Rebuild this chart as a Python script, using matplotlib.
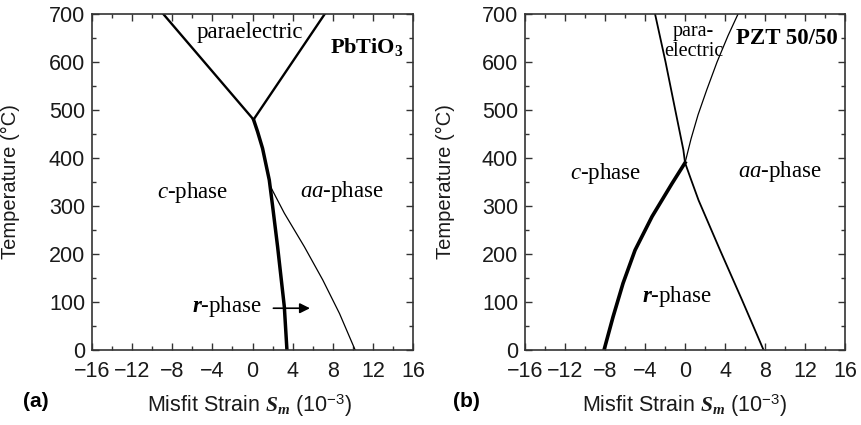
import matplotlib
matplotlib.use("Agg")
import matplotlib.pyplot as plt

plt.rcParams['font.family'] = ['Liberation Sans', 'DejaVu Sans']
plt.rcParams['mathtext.fontset'] = 'custom'
plt.rcParams['mathtext.rm'] = 'Liberation Serif'
plt.rcParams['mathtext.it'] = 'Liberation Serif:italic'
plt.rcParams['mathtext.bf'] = 'Liberation Serif:bold'
plt.rcParams['mathtext.bfit'] = 'Liberation Serif:italic:bold'
plt.rcParams['mathtext.sf'] = 'Liberation Sans'

# panel (a) PbTiO3
a_para_left_x = [-8.9, 0.1]
a_para_left_y = [700, 480]
a_para_right_x = [7.2, 0.1]
a_para_right_y = [700, 480]
a_cr_x = [0.1, 0.5, 1.0, 1.67, 2.0, 2.5, 3.17, 3.43]
a_cr_y = [480, 455, 420, 354, 300, 215, 90, 0]
a_raa_x = [1.75, 3.17, 5.17, 7.0, 8.67, 10.23]
a_raa_y = [342, 285, 215, 146, 76, 0]
a_arrow_x = [1.8, 6.0]
a_arrow_y = 87

# panel (b) PZT 50/50
b_line1_x = [-3.0, -1.95, -0.98, -0.17, 0.0, 0.6, 1.35, 3.5, 5.7, 7.85]
b_line1_y = [700, 600, 500, 417, 390, 355, 312, 208, 104, 0]
b_line2_x = [0.0, 0.6, 1.3, 2.17, 3.2, 4.3, 5.3]
b_line2_y = [390, 440, 490, 542, 600, 655, 700]
b_cr_x = [-8.1, -7.2, -6.2, -5.0, -3.3, -1.3, 0.0]
b_cr_y = [0, 69, 139, 208, 278, 347, 390]

xticks = [-16, -12, -8, -4, 0, 4, 8, 12, 16]
yticks = [0, 100, 200, 300, 400, 500, 600, 700]

fig = plt.figure(figsize=(8.61, 4.25), dpi=100)
axa = fig.add_axes([0.1069, 0.1765, 0.3728, 0.7906])
axb = fig.add_axes([0.6098, 0.1765, 0.3717, 0.7906])

for ax in (axa, axb):
    ax.set_xlim(-16, 16)
    ax.set_ylim(0, 700)
    ax.set_xticks(xticks)
    ax.set_yticks(yticks)
    ax.set_xticks(range(-14, 16, 4), minor=True)
    ax.set_yticks(range(50, 700, 100), minor=True)
    ax.tick_params(which='both', direction='in', top=True, right=True,
                   colors='#333333', labelcolor='#1a1a1a', labelsize=15.5)
    ax.tick_params(which='major', length=5, width=1)
    ax.tick_params(which='minor', length=3, width=1)
    ax.tick_params(axis='x', pad=8)
    ax.tick_params(axis='y', pad=5)
    for s in ax.spines.values():
        s.set_color('#333333')
        s.set_linewidth(1.2)
    ax.set_ylabel('Temperature (°C)', fontsize=14.5, color='#1a1a1a')
    ax.set_xlabel(r'Misfit Strain $\mathbfit{S_m}$ (10$^{\mathsf{-3}}$)',
                  fontsize=15.5, color='#1a1a1a')

axa.yaxis.set_label_coords(-0.225, 0.5)
axa.xaxis.set_label_coords(0.49, -0.128)
axb.yaxis.set_label_coords(-0.22, 0.5)
axb.xaxis.set_label_coords(0.5, -0.128)

# (a)
axa.plot(a_para_left_x, a_para_left_y, color='k', lw=1.7)
axa.plot(a_para_right_x, a_para_right_y, color='k', lw=1.7)
axa.plot(a_cr_x, a_cr_y, color='k', lw=2.5)
axa.plot(a_raa_x, a_raa_y, color='k', lw=0.9)
axa.annotate('', xy=(a_arrow_x[1], a_arrow_y), xytext=(a_arrow_x[0], a_arrow_y),
             arrowprops=dict(arrowstyle='-|>', color='k', lw=1.2, mutation_scale=15))

serif = 'Liberation Serif'
axa.text(-0.25, 662, 'paraelectric', family=serif, fontsize=16.5, ha='center', va='center')
axa.text(11.4, 632, r'PbTiO$_\mathbf{3}$', family=serif, fontsize=16,
         fontweight='bold', ha='center', va='center')
axa.text(-6.0, 328, r'$c$-phase', family=serif, fontsize=16.5, ha='center', va='center')
axa.text(8.9, 331, r'$aa$-phase', family=serif, fontsize=16.5, ha='center', va='center')
axa.text(-2.6, 90, r'$\mathbfit{r}$-phase', family=serif, fontsize=16.5, ha='center', va='center')

# (b)
axb.plot(b_line1_x, b_line1_y, color='k', lw=1.3)
axb.plot(b_line2_x, b_line2_y, color='k', lw=0.9)
axb.plot(b_cr_x, b_cr_y, color='k', lw=2.6)

axb.text(0.85, 643, 'para-\nelectric', family=serif, fontsize=14.5, ha='center',
         va='center', linespacing=1.1)
axb.text(10.2, 648, 'PZT 50/50', family=serif, fontsize=16.5, fontweight='bold',
         ha='center', va='center')
axb.text(-8.0, 368, r'$c$-phase', family=serif, fontsize=16.5, ha='center', va='center')
axb.text(9.5, 372, r'$aa$-phase', family=serif, fontsize=16.5, ha='center', va='center')
axb.text(-0.83, 111, r'$\mathbfit{r}$-phase', family=serif, fontsize=16.5, ha='center', va='center')

fig.text(0.027, 0.056, '(a)', fontsize=15, fontweight='bold', ha='left', va='center')
fig.text(0.526, 0.056, '(b)', fontsize=15, fontweight='bold', ha='left', va='center')

fig.savefig('out.png', dpi=100)
